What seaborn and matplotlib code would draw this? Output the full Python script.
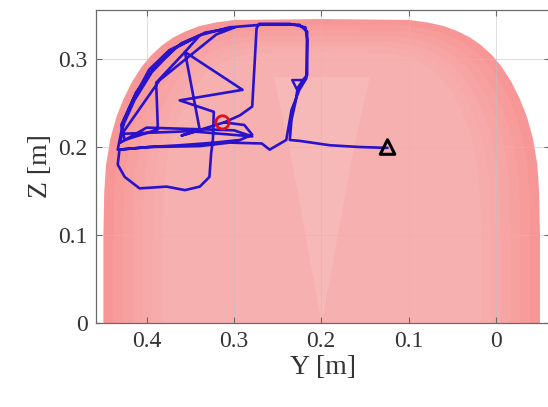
import matplotlib
matplotlib.use("Agg")
import matplotlib.pyplot as plt
import seaborn as sns

# ---- workspace boundary ----
ws_z     = [0.0, 0.10, 0.15, 0.18, 0.21, 0.235, 0.255, 0.275, 0.292, 0.305,
            0.316, 0.325, 0.332, 0.338, 0.342, 0.345, 0.346]
ws_left  = [0.450, 0.450, 0.449, 0.447, 0.442, 0.435, 0.427, 0.417, 0.406, 0.395,
            0.383, 0.370, 0.356, 0.340, 0.322, 0.300, 0.200]
ws_right = [-0.050, -0.050, -0.049, -0.047, -0.042, -0.035, -0.027, -0.017, -0.006, 0.005,
            0.017, 0.030, 0.044, 0.060, 0.078, 0.100, 0.200]

v_z     = [0.0, 0.20, 0.28]
v_left  = [0.200, 0.237, 0.255]
v_right = [0.200, 0.163, 0.145]

# ---- trajectory ----
traj_y = [0.124, 0.156, 0.190, 0.225, 0.236, 0.234, 0.229, 0.227, 0.221, 0.216,
          0.216, 0.218, 0.236, 0.271, 0.274, 0.276, 0.279, 0.293, 0.311, 0.288,
          0.279, 0.293, 0.322, 0.362, 0.397, 0.431, 0.433, 0.425, 0.408, 0.377,
          0.356, 0.339, 0.328, 0.326, 0.324, 0.323, 0.362, 0.290, 0.356, 0.389,
          0.387, 0.425, 0.429, 0.416, 0.397, 0.374, 0.339, 0.305, 0.268, 0.225,
          0.216, 0.217, 0.225, 0.234, 0.240, 0.259, 0.268, 0.305, 0.339, 0.397,
          0.433, 0.428, 0.414, 0.394, 0.368, 0.333, 0.299, 0.320, 0.385, 0.428,
          0.350, 0.279, 0.300, 0.400, 0.430, 0.426, 0.412, 0.390, 0.360, 0.339,
          0.356, 0.339, 0.360, 0.311]
traj_z = [0.199, 0.200, 0.202, 0.207, 0.208, 0.231, 0.253, 0.267, 0.276, 0.282,
          0.322, 0.336, 0.340, 0.340, 0.335, 0.299, 0.246, 0.236, 0.228, 0.225,
          0.214, 0.208, 0.205, 0.202, 0.200, 0.197, 0.180, 0.166, 0.153, 0.155,
          0.151, 0.155, 0.166, 0.193, 0.208, 0.240, 0.253, 0.265, 0.308, 0.273,
          0.220, 0.208, 0.225, 0.253, 0.288, 0.310, 0.327, 0.336, 0.339, 0.339,
          0.331, 0.278, 0.265, 0.242, 0.208, 0.197, 0.204, 0.205, 0.201, 0.200,
          0.197, 0.222, 0.253, 0.285, 0.312, 0.330, 0.336, 0.328, 0.276, 0.215,
          0.218, 0.212, 0.219, 0.222, 0.205, 0.230, 0.262, 0.292, 0.318, 0.327,
          0.308, 0.219, 0.213, 0.228]

start_pt = ([0.124], [0.200])
goal_pt = ([0.313], [0.228])
mid_pt = ([0.227], [0.270])

x_ticks = [0.4, 0.3, 0.2, 0.1, 0.0]
x_labels = ["0.4", "0.3", "0.2", "0.1", "0"]
y_ticks = [0.0, 0.1, 0.2, 0.3]
y_labels = ["0", "0.1", "0.2", "0.3"]

sns.set_theme(style="ticks")
plt.rcParams["font.family"] = ["Liberation Serif", "DejaVu Serif"]

fig = plt.figure(figsize=(5.48, 4.07), dpi=100)
ax = fig.add_axes([0.175, 0.2064, 0.8286, 0.769])

# workspace: base fill plus nested lighter shading toward the interior
ax.fill_betweenx(ws_z, ws_left, ws_right, color="#F79696", lw=0, zorder=1)
for k in range(1, 7):
    sx = 1 - 0.045 * k
    sz = 1 - 0.018 * k
    ax.fill_betweenx([z * sz for z in ws_z],
                     [0.2 + (l - 0.2) * sx for l in ws_left],
                     [0.2 + (r - 0.2) * sx for r in ws_right],
                     color="white", alpha=0.05, lw=0, zorder=1.1)
ax.fill_betweenx(v_z, v_left, v_right, color="white", alpha=0.10, lw=0, zorder=1.3)

# trajectory
sns.lineplot(x=traj_y, y=traj_z, sort=False, estimator=None, color="#2A12CC",
             lw=1.9, ax=ax, zorder=3)

# markers
ax.scatter(*start_pt, marker="^", s=110, facecolors="none", edgecolors="black",
           linewidths=2.2, zorder=4)
ax.scatter(*goal_pt, marker="o", s=90, facecolors="none", edgecolors="#E0101A",
           linewidths=2.0, zorder=4)
ax.scatter(*mid_pt, marker="v", s=60, facecolors="none", edgecolors="#2A12CC",
           linewidths=1.8, zorder=4)

ax.set_xlim(0.458, -0.062)
ax.set_ylim(0.0, 0.3557)
ax.set_xticks(x_ticks)
ax.set_xticklabels(x_labels)
ax.set_yticks(y_ticks)
ax.set_yticklabels(y_labels)

ax.grid(True, color="#c0c0c0", lw=0.6, alpha=0.6)
ax.set_axisbelow(False)
for s in ax.spines.values():
    s.set_color("#6a6a6a")
    s.set_linewidth(0.9)
ax.tick_params(direction="in", length=4, width=0.8, top=True, right=True,
               labelsize=17, colors="#6a6a6a", labelcolor="#333333", pad=6)

ax.set_xlabel("Y [m]", fontsize=20, color="#333333", labelpad=2)
ax.set_ylabel("Z [m]", fontsize=20, color="#333333", labelpad=4)

fig.savefig("out.png", dpi=100)
